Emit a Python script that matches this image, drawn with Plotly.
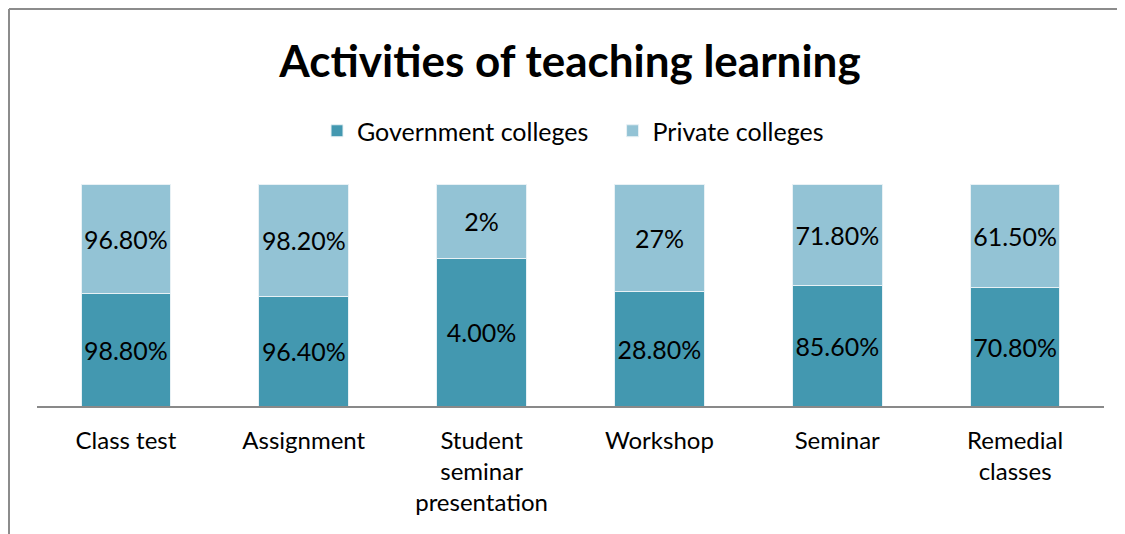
import plotly.graph_objects as go

categories = ["Class test", "Assignment", "Student<br>seminar<br>presentation", "Workshop", "Seminar", "Remedial<br>classes"]
government = [98.8, 96.4, 4.0, 28.8, 85.6, 70.8]
private = [96.8, 98.2, 2.0, 27.0, 71.8, 61.5]
government_labels = ["98.80%", "96.40%", "4.00%", "28.80%", "85.60%", "70.80%"]
private_labels = ["96.80%", "98.20%", "2%", "27%", "71.80%", "61.50%"]

FONT = "Lato"
OFF = 8  # page body margin
W, H = 1125, 534
# desired plot area in screen pixels
SX0, SX1, SY0, SY1 = 37, 1104, 184, 406
L, T = SX0 - OFF, SY0 - OFF
R, B = W - (SX1 - OFF), H - (SY1 - OFF)
pw, ph = SX1 - SX0, SY1 - SY0

def px_x(x):
    return (x - SX0) / pw

def px_y(y):
    return (SY1 - y) / ph

NB = "\u00a0"
fig = go.Figure()
fig.add_bar(x=categories, y=government, name="Government colleges" + NB * 3,
            marker=dict(color="#4398B0", line=dict(color="#E8F1F5", width=1)),
            text=government_labels, textposition="inside", insidetextanchor="middle",
            textfont=dict(color="black", size=25, family=FONT), textangle=0)
fig.add_bar(x=categories, y=private, name="Private colleges",
            marker=dict(color="#93C3D5", line=dict(color="#E8F1F5", width=1)),
            text=private_labels, textposition="inside", insidetextanchor="middle",
            textfont=dict(color="black", size=25, family=FONT), textangle=0)

fig.update_layout(
    width=W, height=H,
    barmode="stack", barnorm="percent", bargap=0.495,
    margin=dict(l=L, r=R, t=T, b=B, autoexpand=False),
    paper_bgcolor="white", plot_bgcolor="white",
    font=dict(family=FONT, size=24, color="black"),
    title=dict(text="<b>Activities of teaching learning</b>", x=(570 - OFF) / W, xanchor="center",
               y=1 - (62 - OFF) / H, yanchor="middle", font=dict(size=44, family=FONT, color="black")),
    legend=dict(orientation="h", x=px_x(573), xanchor="center", y=px_y(131), yanchor="middle",
                font=dict(size=25, family=FONT), traceorder="normal", itemwidth=30),
    showlegend=True,
    uniformtext=dict(mode=False),
    shapes=[
        dict(type="line", xref="paper", yref="paper", x0=px_x(9), x1=px_x(1140), y0=px_y(9), y1=px_y(9),
             line=dict(color="#8C8C8C", width=2)),
        dict(type="line", xref="paper", yref="paper", x0=px_x(9), x1=px_x(9), y0=px_y(9), y1=px_y(560),
             line=dict(color="#8C8C8C", width=2)),
    ],
)
fig.update_xaxes(showline=True, linecolor="#898989", linewidth=2, ticks="", showgrid=False,
                 tickfont=dict(size=24, family=FONT), ticklabelstandoff=12)
fig.update_yaxes(visible=False, range=[0, 100])

fig.write_html("out.html")
